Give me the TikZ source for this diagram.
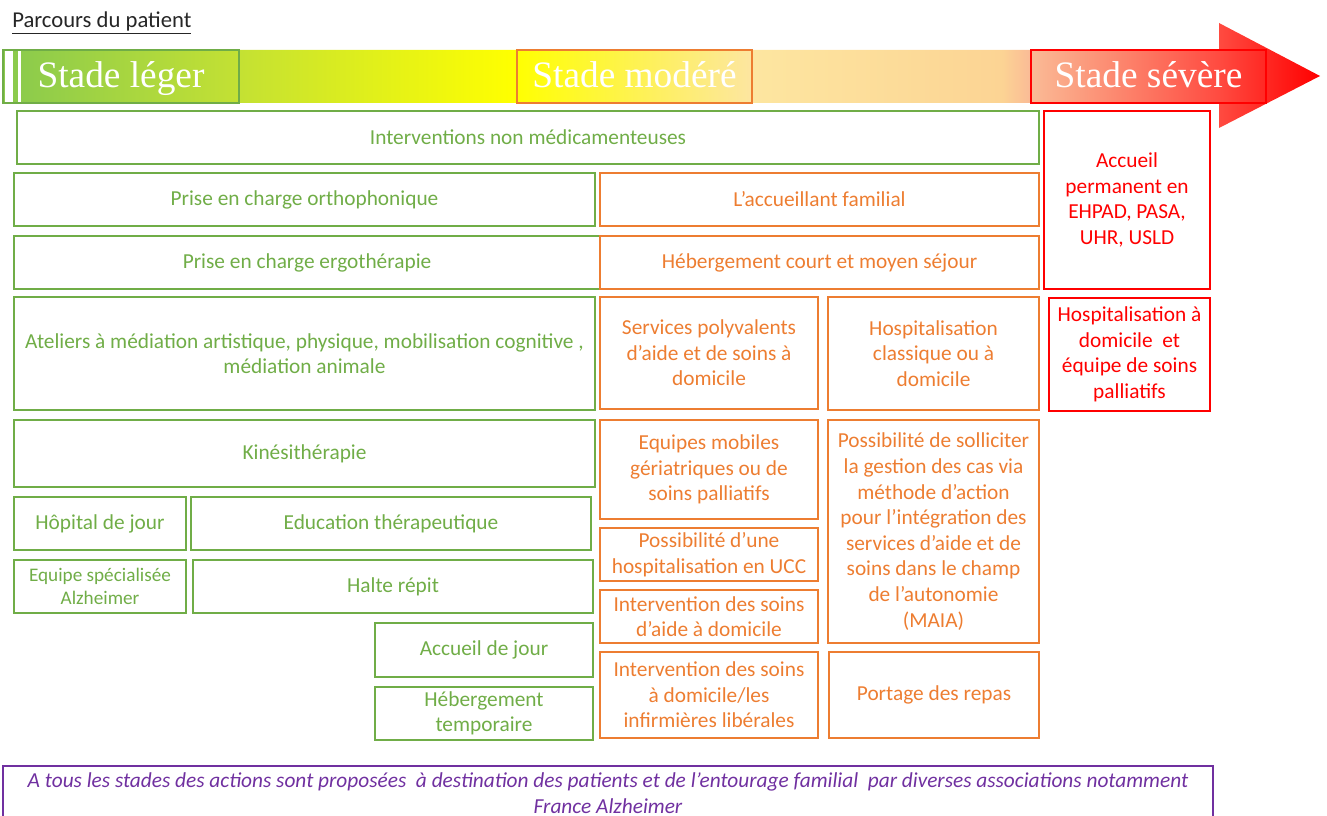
\documentclass[tikz,border=0pt]{standalone}
\usepackage{fontspec}
\setmainfont{Carlito}
\newfontfamily\stagefont{Liberation Serif}

\definecolor{soingreen}{HTML}{70AD47}
\definecolor{soinorange}{HTML}{ED7D31}
\definecolor{soinred}{HTML}{FF0000}
\definecolor{soinpurple}{HTML}{7030A0}
\definecolor{titlegray}{HTML}{262626}
% bar colours, left to right
\definecolor{barA}{HTML}{8CCB4C}
\definecolor{barB}{HTML}{C4E133}
\definecolor{barC}{HTML}{FFFF00}
\definecolor{barD}{HTML}{FDE6A0}
\definecolor{barE}{HTML}{FCD494}
\definecolor{barF}{HTML}{FABB96}
\definecolor{barG}{HTML}{FF4A40}
\definecolor{barH}{HTML}{FF0000}

\pgfdeclarehorizontalshading{stagebar}{100bp}{color(0bp)=(barA); color(25.6bp)=(barA); color(34bp)=(barB); color(44.4bp)=(barC); color(53.4bp)=(barD); color(62.9bp)=(barE); color(64bp)=(barF); color(71.2bp)=(barG); color(75bp)=(barH); color(100bp)=(barH)}

\tikzset{
    % box from (#1,#2) to (#3,#4), in pixels
    boxspan/.style n args={4}{at={({(#1+#3)/2},{(#2+#4)/2})},
        minimum width={(#3-#1)*0.75pt}, minimum height={(#4-#2)*0.75pt}},
    soinbox/.style={draw, line width=0.9pt, inner sep=0pt, align=center,
        font=\fontsize{16}{19.2}\selectfont},
    greenbox/.style={soinbox, draw=soingreen, text=soingreen},
    orangebox/.style={soinbox, draw=soinorange, text=soinorange},
    redbox/.style={soinbox, draw=soinred, text=soinred},
    stagebox/.style={draw, line width=0.9pt, inner sep=0pt, text=white,
        font=\stagefont\fontsize{28}{30}\selectfont, text height=20pt, text depth=3.5pt}
}

\begin{document}
\begin{tikzpicture}[x=0.75pt, y=-0.75pt]

\clip (0,0) rectangle (1327,816);

% Title
\node[anchor=base west, inner sep=0pt, text=titlegray, font=\fontsize{17}{20}\selectfont] (title) at (12,28) {\underline{Parcours du patient}};

% Stage bar
\shade[shading=stagebar] (3,50) -- (1219,50) -- (1219,23) -- (1320,76) -- (1219,128) -- (1219,103) -- (3,103) -- cycle;
\fill[white] (5,51) rectangle (13,102);
\fill[white] (18,51) rectangle (21,102);

\node[stagebox, draw=soingreen, boxspan={3}{50}{239}{103}] (leger) {Stade léger};
\node[stagebox, draw=soinorange, boxspan={517}{50}{752}{103}] (modere) {Stade modéré};
\node[stagebox, draw=soinred, boxspan={1031}{50}{1266}{103}] (severe) {Stade sévère};

% Green boxes
\node[greenbox, boxspan={17}{111}{1039}{164}] (nonmed) {Interventions non médicamenteuses};
\node[greenbox, boxspan={14}{173}{595}{226}] (ortho) {Prise en charge orthophonique};
\node[greenbox, boxspan={14}{236}{600}{289}] (ergo) {Prise en charge ergothérapie};
\node[greenbox, boxspan={14}{297}{595}{410}] (ateliers) {Ateliers à médiation artistique, physique, mobilisation cognitive ,\\ médiation animale};
\node[greenbox, boxspan={14}{420}{595}{487}] (kine) {Kinésithérapie};
\node[greenbox, boxspan={14}{497}{186}{550}] (hdj) {Hôpital de jour};
\node[greenbox, boxspan={191}{497}{591}{550}] (edu) {Education thérapeutique};
\node[greenbox, boxspan={14}{560}{186}{613}, font=\fontsize{14.4}{17.5}\selectfont] (esa) {Equipe spécialisée\\Alzheimer};
\node[greenbox, boxspan={193}{560}{593}{613}] (halte) {Halte répit};
\node[greenbox, boxspan={375}{623}{593}{677}] (adj) {Accueil de jour};
\node[greenbox, boxspan={375}{687}{593}{740}] (hebtemp) {Hébergement\\temporaire};

% Orange boxes
\node[orangebox, boxspan={600}{173}{1039}{226}] (accfam) {L’accueillant familial};
\node[orangebox, boxspan={600}{236}{1039}{289}] (hebcourt) {Hébergement court et moyen séjour};
\node[orangebox, boxspan={600}{297}{818}{409}] (spasad) {Services polyvalents\\d’aide et de soins à\\domicile};
\node[orangebox, boxspan={828}{297}{1039}{410}] (hospclass) {Hospitalisation\\classique ou à\\domicile};
\node[orangebox, boxspan={600}{420}{818}{519}] (emg) {Equipes mobiles\\gériatriques ou de\\soins palliatifs};
\node[orangebox, boxspan={600}{528}{818}{581}] (ucc) {Possibilité d’une\\hospitalisation en UCC};
\node[orangebox, boxspan={600}{590}{818}{643}] (aidedom) {Intervention des soins\\d’aide à domicile};
\node[orangebox, boxspan={600}{652}{818}{738}] (ssiad) {Intervention des soins\\à domicile/les\\infirmières libérales};
\node[orangebox, boxspan={828}{420}{1039}{643}] (maia) {Possibilité de solliciter\\la gestion des cas via\\méthode d’action\\pour l’intégration des\\services d’aide et de\\soins dans le champ\\de l’autonomie\\(MAIA)};
\node[orangebox, boxspan={829}{652}{1039}{738}] (repas) {Portage des repas};

% Red boxes
\node[redbox, boxspan={1044}{111}{1210}{289}] (ehpad) {Accueil\\permanent en\\EHPAD, PASA,\\UHR, USLD};
\node[redbox, boxspan={1049}{298}{1210}{411}] (had) {Hospitalisation à\\domicile\ \ et\\équipe de soins\\palliatifs};

% Associations
\node[soinbox, draw=soinpurple, text=soinpurple, boxspan={3}{766}{1213}{820}, font=\itshape\fontsize{16}{19.5}\selectfont] (assoc) {A tous les stades des actions sont proposées\ \ à destination des patients et de l’entourage familial\ \ par diverses associations notamment\\France Alzheimer};

\end{tikzpicture}
\end{document}
